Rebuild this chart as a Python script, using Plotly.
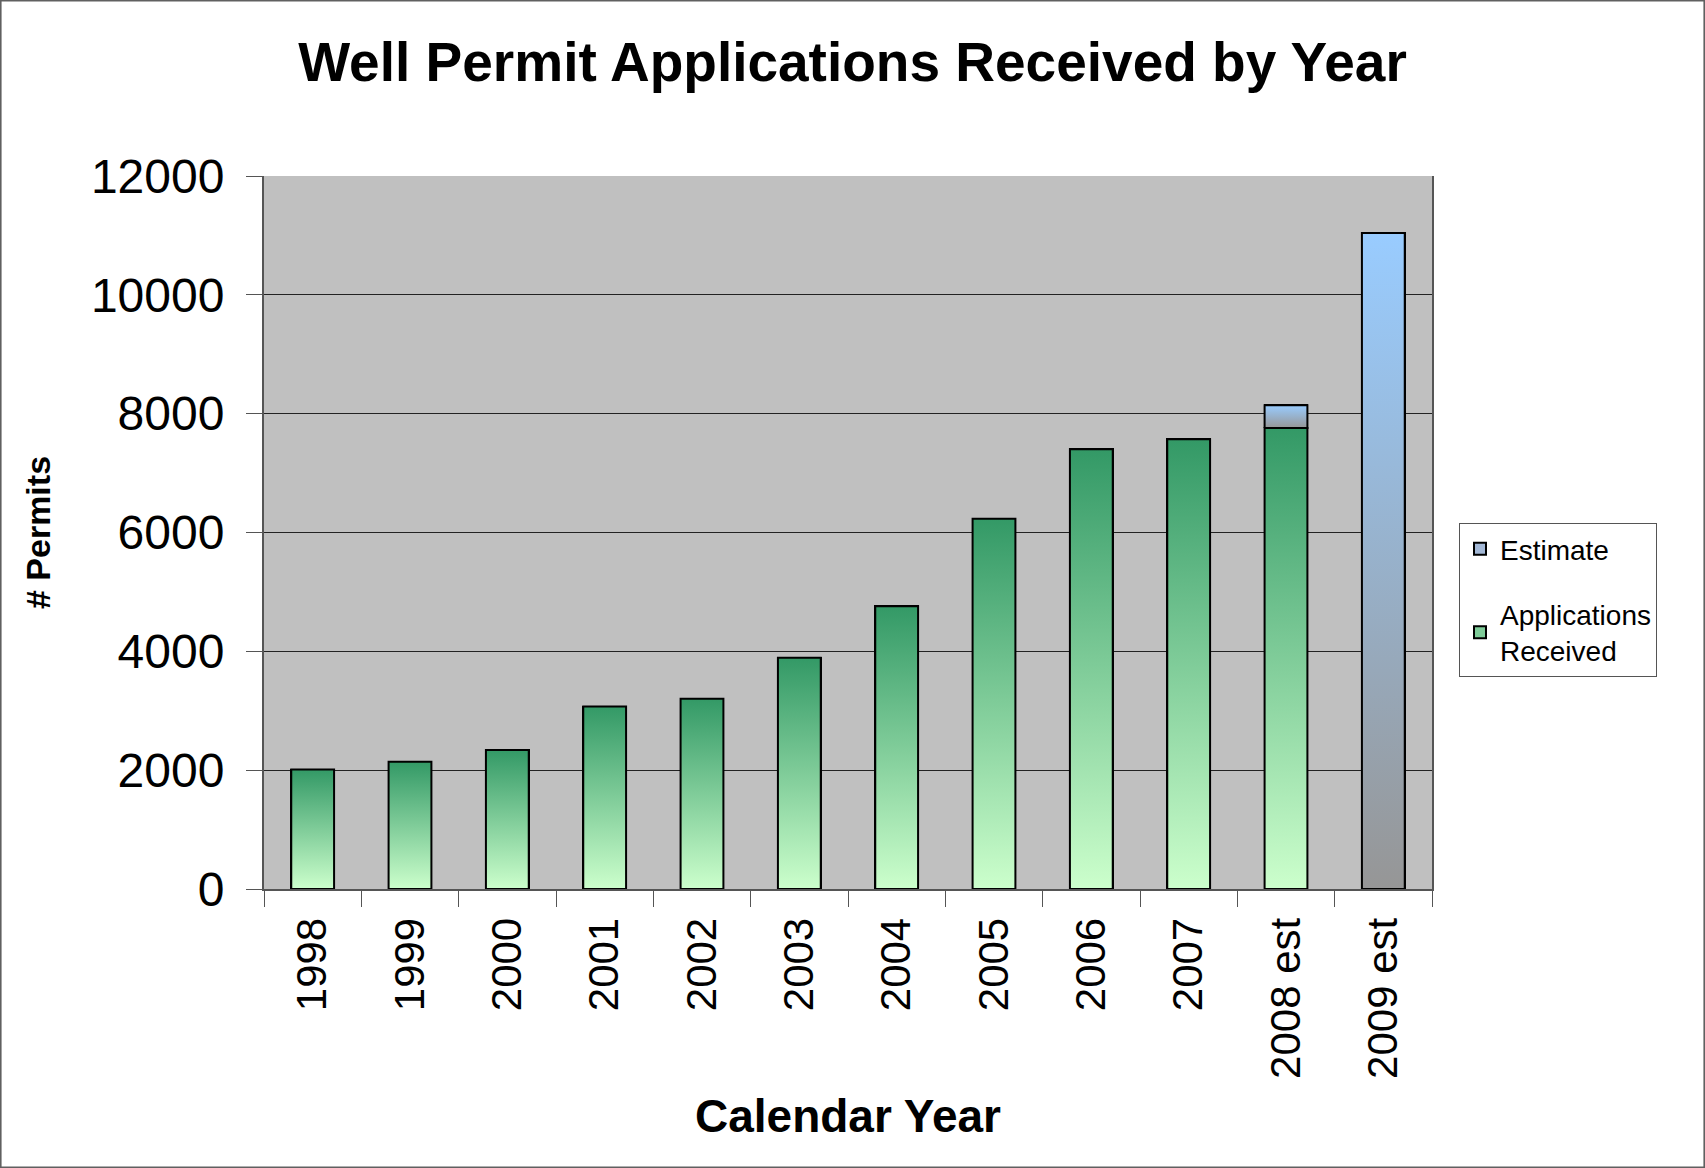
import plotly.graph_objects as go

# ---- data ----
years = ["1998", "1999", "2000", "2001", "2002", "2003", "2004", "2005",
         "2006", "2007", "2008 est", "2009 est"]
applications = [2010, 2140, 2340, 3070, 3200, 3890, 4760, 6230, 7400, 7570, 7760, None]
estimate = [None, None, None, None, None, None, None, None, None, None, 380, 11040]
y_ticks = [0, 2000, 4000, 6000, 8000, 10000, 12000]

# ---- style ----
W, H = 1705, 1168
ML, MR, MT, MB = 264, 273, 176, 279
BAR_W = 0.44
FONT = "Liberation Sans, Arial, sans-serif"
GREEN_TOP, GREEN_BOT = "#339966", "#CCFFCC"
BLUE_TOP, BLUE_BOT = "#99CCFF", "#969696"

fig = go.Figure()

fig.add_trace(go.Bar(
    x=years, y=applications, name="Applications<br>Received", width=BAR_W,
    marker=dict(color="#7FCC99", line=dict(color="black", width=2)),
    legendgroup="apps", legendrank=2,
))
fig.add_trace(go.Bar(
    x=years, y=estimate, name="Estimate", width=BAR_W,
    marker=dict(color="#A3B8D6", line=dict(color="black", width=2)),
    legendgroup="est", legendrank=1,
))

# gradient overlays for each bar segment, on a hidden numeric x axis aligned with categories
half = BAR_W / 2
for i, (a, e) in enumerate(zip(applications, estimate)):
    base = 0
    if a is not None:
        fig.add_trace(go.Scatter(
            x=[i - half, i + half, i + half, i - half, i - half],
            y=[0, 0, a, a, 0], xaxis="x2", mode="lines", fill="toself",
            fillgradient=dict(type="vertical", colorscale=[[0, GREEN_BOT], [1, GREEN_TOP]]),
            line=dict(color="black", width=2), hoverinfo="skip", showlegend=False,
        ))
        base = a
    if e is not None:
        top = base + e
        fig.add_trace(go.Scatter(
            x=[i - half, i + half, i + half, i - half, i - half],
            y=[base, base, top, top, base], xaxis="x2", mode="lines", fill="toself",
            fillgradient=dict(type="vertical", colorscale=[[0, BLUE_BOT], [1, BLUE_TOP]]),
            line=dict(color="black", width=2), hoverinfo="skip", showlegend=False,
        ))

pw = W - ML - MR
ph = H - MT - MB

fig.update_layout(
    width=W, height=H,
    margin=dict(l=ML, r=MR, t=MT, b=MB),
    paper_bgcolor="white", plot_bgcolor="#C0C0C0",
    barmode="stack",
    font=dict(family=FONT, color="black"),
    title=dict(text="<b>Well Permit Applications Received by Year</b>",
               x=0.5, xanchor="center", y=1 - 62 / H, yanchor="middle", yref="container",
               font=dict(size=55, family=FONT, color="black")),
    xaxis=dict(
        type="category", range=[-0.5, len(years) - 0.5],
        tickangle=-90, tickfont=dict(size=42), tickson="boundaries",
        ticks="outside", ticklen=16, tickcolor="#555555", tickwidth=1,
        ticklabelstandoff=10,
        showline=True, linecolor="#555555", linewidth=2, showgrid=False,
        title=dict(text="<b>Calendar Year</b>", font=dict(size=46), standoff=22),
        fixedrange=True,
    ),
    xaxis2=dict(overlaying="x", range=[-0.5, len(years) - 0.5], visible=False,
                fixedrange=True),
    yaxis=dict(
        range=[0, 12000], tickvals=y_ticks, ticktext=[str(v) for v in y_ticks],
        tickfont=dict(size=48),
        ticks="outside", ticklen=16, tickcolor="#555555", tickwidth=1,
        ticklabelstandoff=12,
        showline=True, linecolor="#555555", linewidth=2, mirror=True,
        showgrid=True, gridcolor="#222222", gridwidth=1, zeroline=False,
        title=dict(text="<b># Permits</b>", font=dict(size=34), standoff=30),
        fixedrange=True,
    ),
    legend=dict(
        x=(1459 - ML) / pw, xanchor="left", y=(H - MB - 523) / ph, yanchor="top",
        bgcolor="white", bordercolor="#555555", borderwidth=1,
        font=dict(size=28), traceorder="grouped", tracegroupgap=26,
    ),
    shapes=[dict(type="rect", xref="paper", yref="paper",
                 x0=-ML / pw + 0.0005, x1=(W - ML) / pw - 0.0005,
                 y0=-MB / ph + 0.0008, y1=(H - MB) / ph - 0.0008,
                 line=dict(color="#606060", width=2), layer="below")],
)

fig.write_html("out.html", config={"displayModeBar": False},
               post_script="document.body.style.margin='0';document.body.style.overflow='hidden';")
